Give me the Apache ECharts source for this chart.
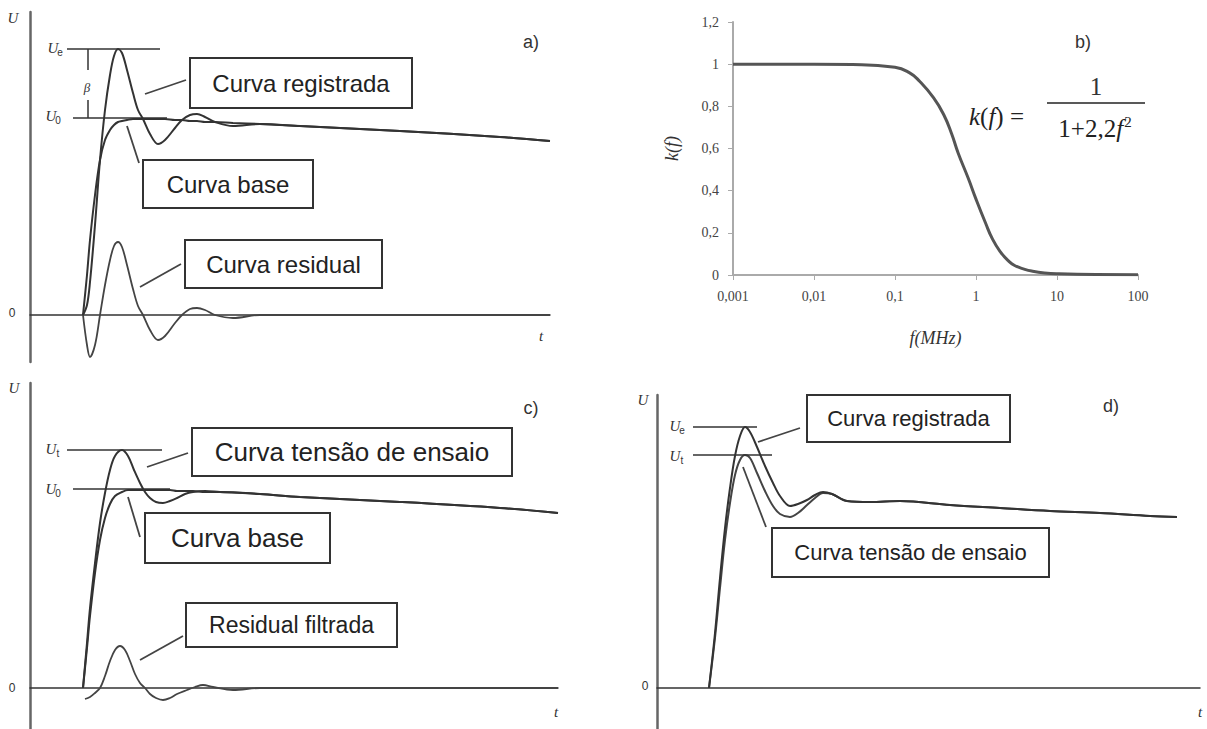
<!DOCTYPE html>
<html>
<head>
<meta charset="utf-8">
<title>Curvas de tensão</title>
<script src="https://cdn.jsdelivr.net/npm/echarts/dist/echarts.min.js"></script>
<style>
  html, body { margin: 0; padding: 0; background: #fff; }
  #main { width: 1207px; height: 729px; }
</style>
</head>
<body>
<div id="main"></div>
<script>
// a) curva registrada / base / residual
var tA = [53, 57, 60, 65, 70, 75, 80, 84, 88, 92, 97, 103, 108, 113, 120, 128, 135, 145, 152, 160, 167, 175, 185, 203, 230, 270, 370, 470, 520];
var baseA = [0, 40, 75, 120, 155, 175, 185, 190, 193, 194, 195, 196, 196, 196, 196, 196, 196, 195, 195, 194, 194, 193, 193, 192, 191, 189, 184, 178, 174];
var regA = [0, 10, 33, 90, 155, 205, 240, 259, 266, 262, 245, 222, 205, 196, 181, 171, 175, 187, 195, 200, 201, 198, 193, 189, 191, 189, 184, 178, 174];
var residA = [0, -30, -42, -30, 0, 30, 55, 69, 73, 68, 50, 26, 9, 0, -15, -25, -21, -8, 0, 6, 7, 5, 0, -3, 0, 0, 0, 0, 0];
var levelsA = [266, 197]; // Ue, U0

// b) k(f)
var freqB = [0.001, 0.01, 0.03, 0.1, 0.15, 0.2, 0.3, 0.4, 0.5, 0.6, 0.8, 1, 1.3, 1.6, 2, 2.5, 3, 4, 5, 7, 10, 30, 100];
var kB = [1, 1, 0.998, 0.985, 0.96, 0.92, 0.84, 0.76, 0.67, 0.58, 0.46, 0.36, 0.25, 0.17, 0.11, 0.068, 0.045, 0.027, 0.018, 0.01, 0.006, 0.002, 0.001];
var kTicks = ['0', '0,2', '0,4', '0,6', '0,8', '1', '1,2'];

// c) tensão de ensaio / base / residual filtrada
var tC = [53, 57, 60, 65, 70, 75, 80, 85, 92, 98, 104, 110, 115, 120, 126, 133, 140, 147, 155, 163, 175, 190, 230, 270, 370, 470, 528];
var testC = [0, 45, 80, 125, 165, 195, 218, 232, 238, 232, 218, 205, 196, 190, 186, 185, 187, 190, 194, 196, 197, 196, 194, 191, 186, 180, 175];
var baseC = [0, 40, 72, 115, 148, 170, 184, 192, 196, 198, 198, 198, 198, 198, 198, 198, 198, 197, 197, 197, 196, 196, 194, 191, 186, 180, 175];
var tRC = [55, 60, 65, 70, 75, 80, 85, 90, 95, 100, 105, 110, 115, 120, 126, 133, 140, 147, 157, 165, 173, 183, 203, 230, 528];
var residC = [-11, -9, -5, 0, 12, 27, 38, 42, 38, 27, 14, 5, 0, -6, -10, -12, -10, -6, -2, 1, 3, 1, -2, 0, 0];
var levelsC = [238, 199]; // Ut, U0

// d) registrada / tensão de ensaio
var tD = [52, 58, 63, 68, 73, 78, 83, 88, 93, 100, 108, 116, 123, 133, 141, 150, 158, 166, 175, 190, 213, 243, 293, 343, 393, 443, 493, 520];
var regD = [0, 55, 110, 160, 200, 232, 252, 261, 256, 241, 222, 205, 192, 182, 184, 188, 193, 196, 194, 187, 186, 187, 183, 180, 177, 175, 172, 171];
var testD = [0, 50, 100, 148, 185, 213, 228, 233, 230, 215, 197, 182, 174, 171, 175, 183, 190, 195, 194, 187, 186, 187, 183, 180, 177, 175, 172, 171];
var levelsD = [261, 233]; // Ue, Ut

var SANS = 'Liberation Sans, Arial, sans-serif';
var SERIF = 'Liberation Serif, Times New Roman, serif';

function zip(xs, ys) {
  return xs.map(function (x, i) { return [x, ys[i]]; });
}

function curve(idx, xs, ys, color, width, sm) {
  return {
    type: 'line',
    xAxisIndex: idx,
    yAxisIndex: idx,
    data: zip(xs, ys),
    smooth: sm || 0.35,
    symbol: 'none',
    silent: true,
    lineStyle: { color: color || '#333', width: width || 2 },
    z: 3
  };
}

function hline(idx, y, x1, x2) {
  return [{ coord: [x1, y] }, { coord: [x2, y] }];
}

function refLines(idx, pairs) {//linhas de referência Ue, U0...
  return {
    type: 'line',
    xAxisIndex: idx,
    yAxisIndex: idx,
    data: [],
    silent: true,
    markLine: {
      silent: true,
      symbol: ['none', 'none'],
      label: { show: false },
      lineStyle: { color: '#333', width: 1.5, type: 'solid' },
      emphasis: { disabled: true },
      data: pairs
    }
  };
}

function sketchX(idx, gi, max) {
  return {
    type: 'value', gridIndex: gi, min: 0, max: max,
    axisLine: { show: true, onZero: true, lineStyle: { color: '#333', width: 1.5 } },
    axisTick: { show: false }, axisLabel: { show: false }, splitLine: { show: false }
  };
}

function sketchY(gi, min, max) {
  return {
    type: 'value', gridIndex: gi, min: min, max: max,
    axisLine: { show: true, onZero: true, lineStyle: { color: '#666', width: 2.5 } },
    axisTick: { show: false }, axisLabel: { show: false }, splitLine: { show: false }
  };
}

// caixas de legenda e textos soltos
var G = [];
function box(x, y, w, h, txt, size) {
  G.push({ type: 'rect', shape: { x: x, y: y, width: w, height: h }, style: { fill: '#fff', stroke: '#333', lineWidth: 2 }, z: 10 });
  G.push({ type: 'text', x: x + w / 2, y: y + h / 2, z: 11,
    style: { text: txt, fontSize: size, fontFamily: SANS, fill: '#222', align: 'center', verticalAlign: 'middle' } });
}
function lead(x1, y1, x2, y2) {
  G.push({ type: 'line', shape: { x1: x1, y1: y1, x2: x2, y2: y2 }, style: { stroke: '#444', lineWidth: 1.8 }, z: 9 });
}
function txt(x, y, s, size, fam, italic, align) {
  G.push({ type: 'text', x: x, y: y, z: 11,
    style: { text: s, fontSize: size, fontFamily: fam, fontStyle: italic ? 'italic' : 'normal', fill: '#333',
      align: align || 'center', verticalAlign: 'middle' } });
}
function uLabel(x, y, sub) {
  txt(x, y, 'U', 15, SERIF, true, 'center');
  if (sub) txt(x + 7, y + 4, sub, 10, SANS, false, 'center');
}

// a)
box(190, 58, 222, 50, 'Curva registrada', 24); lead(145, 94, 186, 80);
box(143, 160, 170, 48, 'Curva base', 24); lead(127, 126, 139, 163);
box(185, 240, 197, 48, 'Curva residual', 24); lead(140, 287, 181, 264);
txt(531, 42, 'a)', 18, SANS, false);
uLabel(13, 18); txt(12, 313, '0', 12, SANS, false); txt(541, 336, 't', 15, SERIF, true);
uLabel(53, 48, 'e'); uLabel(51, 116, '0');
txt(87, 87, 'β', 13, SERIF, true);

// b)
txt(1083, 42, 'b)', 18, SANS, false);
G.push({ type: 'text', x: 969, y: 116, z: 11,
  style: { text: '{i|k}{n|(}{i|f}{n|) =}', verticalAlign: 'middle', align: 'left',
    rich: { i: { fontFamily: SERIF, fontStyle: 'italic', fontSize: 25, fill: '#222' },
            n: { fontFamily: SERIF, fontSize: 25, fill: '#222' } } } });
txt(1096, 86, '1', 25, SERIF, false);
G.push({ type: 'line', shape: { x1: 1047, y1: 103, x2: 1145, y2: 103 }, style: { stroke: '#222', lineWidth: 1.5 }, z: 11 });
G.push({ type: 'text', x: 1095, y: 128, z: 11,
  style: { text: '{n|1+2,2}{i|f}{s|2}', align: 'center', verticalAlign: 'middle',
    rich: { i: { fontFamily: SERIF, fontStyle: 'italic', fontSize: 25, fill: '#222' },
            n: { fontFamily: SERIF, fontSize: 25, fill: '#222' },
            s: { fontFamily: SERIF, fontSize: 15, fill: '#222', verticalAlign: 'top', padding: [0, 0, 12, 1] } } } });

// c)
box(192, 428, 320, 48, 'Curva tensão de ensaio', 26); lead(147, 467, 188, 453);
box(145, 513, 185, 50, 'Curva base', 26); lead(128, 497, 140, 537);
box(186, 603, 211, 44, 'Residual filtrada', 23); lead(140, 660, 183, 636);
txt(531, 408, 'c)', 18, SANS, false);
uLabel(14, 388); txt(12, 688, '0', 12, SANS, false); txt(556, 712, 't', 15, SERIF, true);
uLabel(51, 449, 't'); uLabel(51, 489, '0');

// d)
box(807, 395, 203, 47, 'Curva registrada', 22); lead(758, 442, 800, 428);
box(772, 528, 277, 49, 'Curva tensão de ensaio', 22); lead(743, 467, 766, 527);
txt(1111, 406, 'd)', 18, SANS, false);
uLabel(643, 400); txt(645, 686, '0', 12, SANS, false); txt(1200, 712, 't', 15, SERIF, true);
uLabel(675, 426, 'e'); uLabel(675, 456, 't');

var chart = echarts.init(document.getElementById('main'), null, { renderer: 'svg' });

var option = {
  animation: false,
  backgroundColor: '#fff',
  grid: [
    { left: 30, top: 12, width: 520, height: 350, containLabel: false, outerBoundsMode: 'none' },
    { left: 733, top: 22, width: 405, height: 253, containLabel: false, outerBoundsMode: 'none' },
    { left: 30, top: 383, width: 528, height: 346, containLabel: false, outerBoundsMode: 'none' },
    { left: 657, top: 395, width: 543, height: 334, containLabel: false, outerBoundsMode: 'none' }
  ],
  xAxis: [
    sketchX(0, 0, 520),
    {
      type: 'log', gridIndex: 1, logBase: 10, min: 0.001, max: 100,
      name: 'f(MHz)', nameLocation: 'middle', nameGap: 54,
      nameTextStyle: { fontFamily: SERIF, fontStyle: 'italic', fontSize: 18, color: '#333' },
      axisLine: { lineStyle: { color: '#aaa', width: 2 } },
      axisTick: { show: true, length: 5, lineStyle: { color: '#aaa' } },
      axisLabel: { margin: 14, fontFamily: SERIF, fontSize: 14, color: '#444',
        formatter: function (v) { return String(+(+v).toPrecision(3)).replace('.', ','); } },
      splitLine: { show: false }
    },
    sketchX(2, 2, 528),
    sketchX(3, 3, 543)
  ],
  yAxis: [
    sketchY(0, -47, 303),
    {
      type: 'value', gridIndex: 1, min: 0, max: 1.2, interval: 0.2,
      name: 'k(f)', nameLocation: 'middle', nameGap: 52, nameRotate: 90,
      nameTextStyle: { fontFamily: SERIF, fontStyle: 'italic', fontSize: 18, color: '#333' },
      axisLine: { show: true, lineStyle: { color: '#aaa', width: 2 } },
      axisTick: { show: true, length: 5, lineStyle: { color: '#aaa' } },
      axisLabel: { margin: 14, fontFamily: SERIF, fontSize: 14, color: '#444',
        formatter: function (v) { return kTicks[Math.round(v / 0.2)]; } },
      splitLine: { show: false }
    },
    sketchY(2, -41, 305),
    sketchY(3, -41, 293)
  ],
  series: [
    curve(0, tA, residA, '#444', 1.8),
    curve(0, tA, baseA, '#333', 2),
    curve(0, tA, regA, '#333', 2),
    refLines(0, [
      hline(0, levelsA[0], 37, 130),
      hline(0, levelsA[1], 43, 137),
      [{ coord: [58, levelsA[0]] }, { coord: [58, 245] }],
      [{ coord: [58, 215] }, { coord: [58, levelsA[1]] }]
    ]),
    curve(1, freqB, kB, '#555', 3, 0.5),
    curve(2, tRC, residC, '#444', 1.8),
    curve(2, tC, baseC, '#333', 2),
    curve(2, tC, testC, '#333', 2),
    refLines(2, [hline(2, levelsC[0], 37, 132), hline(2, levelsC[1], 43, 140)]),
    curve(3, tD, testD, '#444', 2),
    curve(3, tD, regD, '#333', 2),
    refLines(3, [hline(3, levelsD[0], 36, 100), hline(3, levelsD[1], 36, 115)])
  ],
  graphic: G
};

option && chart.setOption(option);
</script>
</body>
</html>
